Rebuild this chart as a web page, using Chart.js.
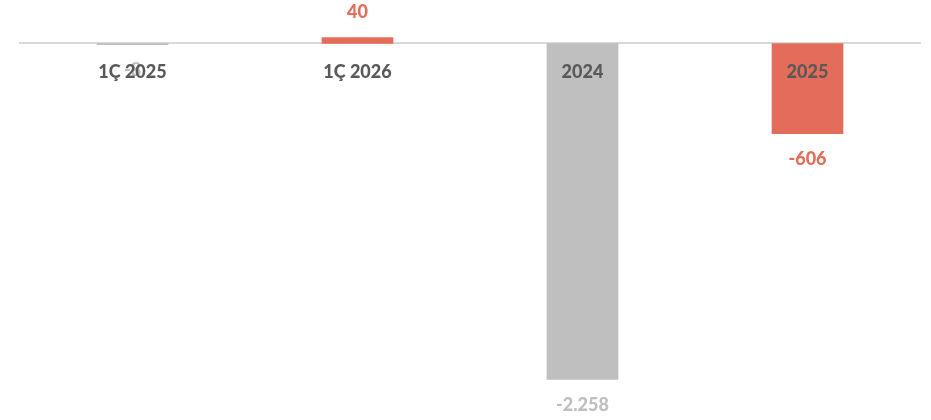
<!DOCTYPE html>
<html>
<head>
<meta charset="utf-8">
<script src="https://cdn.jsdelivr.net/npm/chart.js@4"></script>
<style>
  html, body { margin: 0; padding: 0; background: #fff; }
  #wrap { width: 931px; height: 420px; }
</style>
</head>
<body>
<div id="wrap"><canvas id="chart"></canvas></div>
<script>
// chart data
const categories = ["1Ç 2025", "1Ç 2026", "2024", "2025"];
const values = [-8, 40, -2258, -606];
const barColors = ["#bfbfbf", "#e46c5a", "#bfbfbf", "#e46c5a"];
const labelColors = ["#bfbfbf", "#e46c5a", "#bfbfbf", "#e46c5a"];

// Turkish style thousands separator
function fmt(v) {
  const s = Math.abs(v).toString().replace(/\B(?=(\d{3})+(?!\d))/g, ".");
  return (v < 0 ? "-" : "") + s;
}

// draw the value labels next to the end of each bar
const valueLabels = {
  id: "valueLabels",
  afterDatasetsDraw(chart) {
    const ctx = chart.ctx;
    const meta = chart.getDatasetMeta(0);
    ctx.save();
    ctx.font = "900 18px Lato";
    ctx.textAlign = "center";
    ctx.textBaseline = "middle";
    meta.data.forEach((bar, i) => {
      const v = values[i];
      const y = v >= 0 ? bar.y - 25 : bar.y + 26;
      ctx.fillStyle = labelColors[i];
      ctx.fillText(fmt(v), bar.x, y);
    });
    ctx.restore();
  },
};

new Chart(document.getElementById("chart"), {
  type: "bar",
  data: {
    labels: categories,
    datasets: [
      {
        data: values,
        backgroundColor: barColors,
        barThickness: 71,
        borderWidth: 0,
      },
    ],
  },
  options: {
    responsive: true,
    maintainAspectRatio: false,
    animation: false,
    layout: { padding: { left: 20, right: 11, top: 0, bottom: 0 } },
    plugins: { legend: { display: false }, tooltip: { enabled: false } },
    scales: {
      x: {
        position: { y: 0 },
        grid: { display: false, drawTicks: false },
        border: { display: true, color: "#d9d9d9", width: 2 },
        ticks: {
          z: 1, // labels on top of the bars
          padding: 18,
          color: "#595959",
          font: { family: "Lato", size: 18, weight: "900" },
        },
      },
      y: {
        display: false,
        min: -2530,
        max: 292,
      },
    },
  },
  plugins: [valueLabels],
});
</script>
</body>
</html>
